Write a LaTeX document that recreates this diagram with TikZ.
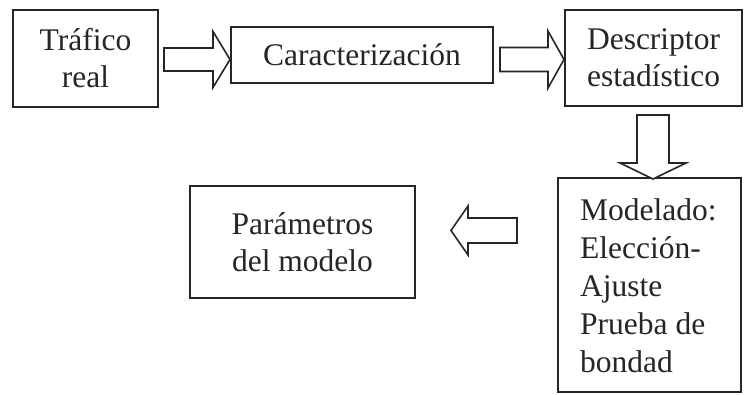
\documentclass[tikz,border=0pt]{standalone}
\usepackage{fontspec}
\setmainfont{Liberation Serif}
\usetikzlibrary{calc}
\begin{document}
\begin{tikzpicture}[x=1pt,y=-1pt,
  txt/.style={inner sep=0pt, font=\fontsize{31.5}{37}\selectfont, text=black!85},
  box/.style={txt, draw=black!85, line width=2pt, rectangle, align=center},
  blockarr/.style={draw=black!85, line width=1.6pt, line join=miter, fill=white}]
\useasboundingbox (0,0) rectangle (745,394);
\fill[white] (0,0) rectangle (745,394);
% boxes
\node[box, minimum width=145pt, minimum height=97pt] (tr) at (85.5,58.5) {Tráfico\\real};
\node[box, minimum width=262pt, minimum height=56pt] (car) at (362,55) {Caracterización};
\node[box, minimum width=177pt, minimum height=96pt] (des) at (653.5,58) {Descriptor\\estadístico};
\node[box, minimum width=183pt, minimum height=214pt] (mod) at (649.5,285) {};
\node[txt, font=\fontsize{31.5}{38}\selectfont, align=left, anchor=north west] (modt) at ($(mod.north west)+(23,21)$) {Modelado:\\Elección-\\Ajuste\\Prueba de\\bondad};
\node[box, minimum width=225pt, minimum height=112pt] (par) at (302.5,242) {Parámetros\\del modelo};
% block arrows
\coordinate (a1) at ($(tr.east)+(5,1)$);
\draw[blockarr, shift={(a1)}] (0,-11.5) -- (49,-11.5) -- (49,-28) -- (66,0) -- (49,28) -- (49,11.5) -- (0,11.5) -- cycle;
\coordinate (a2) at ($(car.east)+(6,4.5)$);
\draw[blockarr, shift={(a2)}] (0,-12) -- (48,-12) -- (48,-28.5) -- (64,0) -- (48,28.5) -- (48,12) -- (0,12) -- cycle;
\coordinate (a3) at ($(des.south)+(-0.5,8)$);
\draw[blockarr, shift={(a3)}] (-16,0) -- (16,0) -- (16,48) -- (33,48) -- (0,64) -- (-33,48) -- (-16,48) -- cycle;
\coordinate (a4) at ($(par.east)+(35,-11.5)$);
\draw[blockarr, shift={(a4)}] (0,0) -- (17,-24.5) -- (17,-12.5) -- (66,-12.5) -- (66,12.5) -- (17,12.5) -- (17,24.5) -- cycle;
\end{tikzpicture}
\end{document}
